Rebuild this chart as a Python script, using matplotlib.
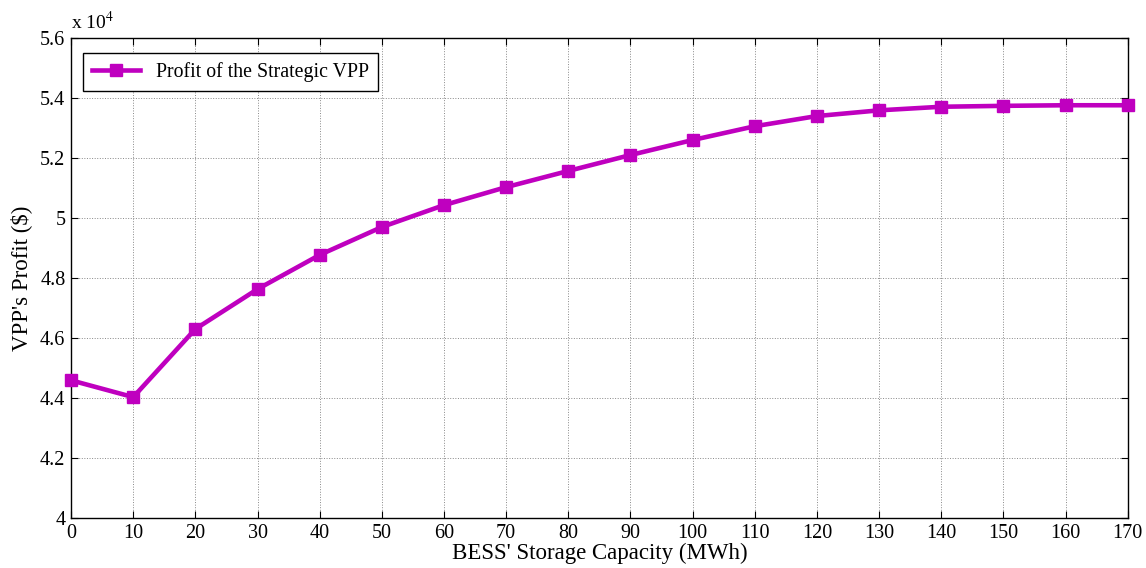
import matplotlib.pyplot as plt
from matplotlib.ticker import FuncFormatter

capacity = [0, 10, 20, 30, 40, 50, 60, 70, 80, 90, 100, 110, 120, 130, 140, 150, 160, 170]
profit = [44590, 44030, 46300, 47630, 48770, 49700, 50430, 51030, 51570, 52100,
          52600, 53060, 53400, 53590, 53710, 53740, 53760, 53760]


def main() -> None:
    plt.rcParams["font.family"] = ["Liberation Serif", "DejaVu Serif"]
    plt.rcParams["mathtext.fontset"] = "stix"
    fig = plt.figure(figsize=(11.46, 5.68), dpi=100)
    ax = fig.add_axes([0.062, 0.088, 0.922, 0.845])
    ax.plot(capacity, profit, color="#BF00BF", lw=3.3, marker="s", ms=9,
            label="Profit of the Strategic VPP", clip_on=False, zorder=3)
    ax.set_xlim(0, 170)
    ax.set_ylim(40000, 56000)
    ax.set_xticks(range(0, 171, 10))
    ax.set_yticks(range(40000, 56001, 2000))
    ax.yaxis.set_major_formatter(FuncFormatter(lambda v, p: f"{v / 1e4:g}"))
    ax.grid(True, ls=":", color="#888888", lw=0.7)
    ax.tick_params(direction="in", top=True, right=True, labelsize=14.5,
                   length=5, pad=4)
    for s in ax.spines.values():
        s.set_linewidth(1.0)
    ax.text(0.0, 1.01, r"x 10$^4$", transform=ax.transAxes, fontsize=14,
            ha="left", va="bottom")
    ax.set_xlabel("BESS' Storage Capacity (MWh)", fontsize=16.5, labelpad=0)
    ax.set_ylabel("VPP's Profit ($)", fontsize=16.5, labelpad=6)
    leg = ax.legend(loc="upper left", fontsize=14.3, fancybox=False, framealpha=1,
                    edgecolor="black", handlelength=2.4, borderpad=0.45,
                    bbox_to_anchor=(0.002, 0.99))
    leg.get_frame().set_linewidth(1.0)
    fig.savefig("out.png", dpi=100)


if __name__ == "__main__":
    main()
